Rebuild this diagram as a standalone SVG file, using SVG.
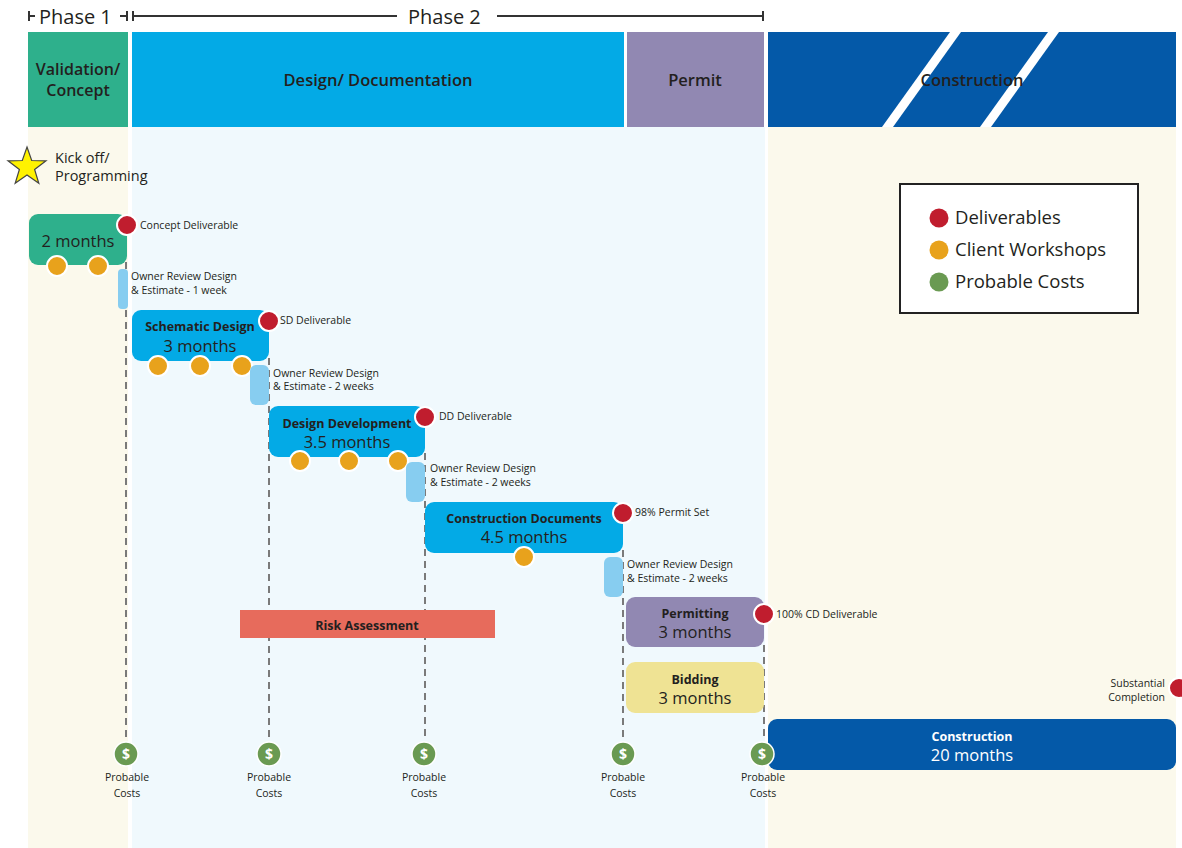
<svg xmlns="http://www.w3.org/2000/svg" width="1182" height="848" viewBox="0 0 1182 848">
<style>
text{font-family:"Open Sans","Noto Sans","Liberation Sans",sans-serif;fill:#231f20}
.hd{font-size:16.5px;font-weight:600;text-anchor:middle}
.hv{font-size:16px;font-weight:600;text-anchor:middle}
.ph{font-size:20px}
.sm{font-size:10.5px}
.mid{text-anchor:middle}
.bt{font-size:12.5px;font-weight:700;text-anchor:middle}
.dur{font-size:16.5px;text-anchor:middle}
.leg{font-size:18.5px}
.dash{stroke:#7a7a7a;stroke-width:2;stroke-dasharray:7 5;fill:none}
.del{fill:#c01d2e;stroke:#fff;stroke-width:2}
.ws{fill:#e8a21c;stroke:#fff;stroke-width:2}
.pc{fill:#6a9a52;stroke:#fff;stroke-width:1.5}
.rev{fill:#87cdf0}
.dol{font-size:14px;font-weight:700;fill:#fff;text-anchor:middle}
</style>
<rect width="1182" height="848" fill="#fff"/>
<g id="background">
<rect x="28" y="127" width="100" height="721" fill="#fbf9ec"/>
<rect x="132" y="127" width="633" height="721" fill="#f0f9fd"/>
<rect x="768" y="127" width="408" height="721" fill="#fbf9ec"/>
</g>
<g id="phases" stroke="#333" stroke-width="2" fill="none">
<line x1="29" y1="11" x2="29" y2="21"/><line x1="29" y1="16" x2="35" y2="16"/>
<line x1="120" y1="16" x2="127" y2="16"/><line x1="127" y1="11" x2="127" y2="21"/>
<line x1="133" y1="11" x2="133" y2="21"/><line x1="133" y1="16" x2="397" y2="16"/>
<line x1="497" y1="16" x2="763" y2="16"/><line x1="763" y1="11" x2="763" y2="21"/>
</g>
<g id="phase-labels">
<text class="ph" x="39" y="24">Phase 1</text>
<text class="ph" x="408" y="24">Phase 2</text>
</g>
<g id="header-validation">
<rect x="28" y="32" width="100" height="95" fill="#2eb08c"/>
<text class="hv" x="78" y="75">Validation/</text>
<text class="hv" x="78" y="96">Concept</text>
</g>
<g id="header-design">
<rect x="132" y="32" width="492" height="95" fill="#03aae6"/>
<text class="hd" x="378" y="86">Design/ Documentation</text>
</g>
<g id="header-permit">
<rect x="627" y="32" width="137" height="95" fill="#9188b2"/>
<text class="hd" x="695" y="86">Permit</text>
</g>
<g id="header-construction">
<rect x="768" y="32" width="408" height="95" fill="#0459a8"/>
<polygon points="950,32 961,32 893,127 882,127" fill="#fff"/>
<polygon points="1048,32 1059,32 991,127 980,127" fill="#fff"/>
<text class="hd" x="972" y="86">Construction</text>
</g>
<g id="connectors">
<line class="dash" x1="126" y1="262" x2="126" y2="740"/>
<line class="dash" x1="269" y1="358" x2="269" y2="740"/>
<line class="dash" x1="425" y1="453" x2="425" y2="740"/>
<line class="dash" x1="623" y1="550" x2="623" y2="740"/>
<line class="dash" x1="764" y1="645" x2="764" y2="740"/>
</g>
<g id="kickoff">
<polygon points="27,147 31.7,160.5 46,160.8 34.6,169.5 38.8,183.2 27,175 15.2,183.2 19.4,169.5 8,160.8 22.3,160.5" fill="#fff200" stroke="#444" stroke-width="1.2"/>
<text x="55" y="163" font-size="14.5">Kick off/</text>
<text x="55" y="181" font-size="14.5">Programming</text>
</g>
<g id="concept">
<rect x="29" y="214" width="98" height="51" rx="9" fill="#2eb08c"/>
<text class="dur" x="78" y="247">2 months</text>
<circle class="ws" cx="57" cy="266" r="10"/>
<circle class="ws" cx="98" cy="266" r="10"/>
<circle class="del" cx="127" cy="225" r="10"/>
<text class="sm" x="140" y="229">Concept Deliverable</text>
</g>
<g id="review1">
<rect class="rev" x="118" y="269" width="10" height="40" rx="4"/>
<text class="sm" x="131" y="280">Owner Review Design</text>
<text class="sm" x="131" y="294">&amp; Estimate - 1 week</text>
</g>
<g id="schematic">
<rect x="132" y="310" width="137" height="51" rx="9" fill="#03aae6"/>
<text class="bt" x="200" y="331">Schematic Design</text>
<text class="dur" x="200" y="352">3 months</text>
<circle class="ws" cx="158" cy="366" r="10"/>
<circle class="ws" cx="200" cy="366" r="10"/>
<circle class="ws" cx="242" cy="366" r="10"/>
<circle class="del" cx="269" cy="321" r="10"/>
<text class="sm" x="280" y="324">SD Deliverable</text>
</g>
<g id="review2">
<rect class="rev" x="250" y="365" width="19" height="40" rx="6"/>
<text class="sm" x="273" y="377">Owner Review Design</text>
<text class="sm" x="273" y="390">&amp; Estimate - 2 weeks</text>
</g>
<g id="design-development">
<rect x="269" y="406" width="156" height="51" rx="9" fill="#03aae6"/>
<text class="bt" x="347" y="428">Design Development</text>
<text class="dur" x="347" y="448">3.5 months</text>
<circle class="ws" cx="300" cy="461" r="10"/>
<circle class="ws" cx="349" cy="461" r="10"/>
<circle class="ws" cx="398" cy="461" r="10"/>
<circle class="del" cx="425" cy="417" r="10"/>
<text class="sm" x="439" y="420">DD Deliverable</text>
</g>
<g id="review3">
<rect class="rev" x="406" y="462" width="19" height="40" rx="6"/>
<text class="sm" x="430" y="472">Owner Review Design</text>
<text class="sm" x="430" y="486">&amp; Estimate - 2 weeks</text>
</g>
<g id="construction-documents">
<rect x="425" y="502" width="198" height="51" rx="9" fill="#03aae6"/>
<text class="bt" x="524" y="523">Construction Documents</text>
<text class="dur" x="524" y="543">4.5 months</text>
<circle class="ws" cx="524" cy="557" r="10"/>
<circle class="del" cx="623" cy="513" r="10"/>
<text class="sm" x="635" y="516">98% Permit Set</text>
</g>
<g id="review4">
<rect class="rev" x="604" y="557" width="19" height="40" rx="6"/>
<text class="sm" x="627" y="568">Owner Review Design</text>
<text class="sm" x="627" y="582">&amp; Estimate - 2 weeks</text>
</g>
<g id="risk">
<rect x="240" y="610" width="255" height="28" fill="#e76b5c"/>
<text x="367" y="630" font-size="12.5" font-weight="700" text-anchor="middle">Risk Assessment</text>
</g>
<g id="permitting">
<rect x="626" y="597" width="138" height="50" rx="9" fill="#9188b2"/>
<text class="bt" x="695" y="618">Permitting</text>
<text class="dur" x="695" y="638">3 months</text>
<circle class="del" cx="764" cy="614" r="10"/>
<text class="sm" x="776" y="618">100% CD Deliverable</text>
</g>
<g id="bidding">
<rect x="626" y="662" width="138" height="51" rx="9" fill="#efe394"/>
<text class="bt" x="695" y="684">Bidding</text>
<text class="dur" x="695" y="704">3 months</text>
</g>
<g id="construction">
<rect x="768" y="719" width="408" height="51" rx="9" fill="#0459a8"/>
<text class="bt" x="972" y="741" style="fill:#fff">Construction</text>
<text class="dur" x="972" y="761" style="fill:#fff">20 months</text>
<circle class="del" cx="1179" cy="688" r="10"/>
<text class="sm" x="1165" y="687" text-anchor="end">Substantial</text>
<text class="sm" x="1165" y="701" text-anchor="end">Completion</text>
</g>
<g id="costs">
<circle class="pc" cx="126" cy="754" r="12"/><text class="dol" x="126" y="759">$</text>
<text class="sm mid" x="127" y="781">Probable</text><text class="sm mid" x="127" y="797">Costs</text>
<circle class="pc" cx="269" cy="754" r="12"/><text class="dol" x="269" y="759">$</text>
<text class="sm mid" x="269" y="781">Probable</text><text class="sm mid" x="269" y="797">Costs</text>
<circle class="pc" cx="424" cy="754" r="12"/><text class="dol" x="424" y="759">$</text>
<text class="sm mid" x="424" y="781">Probable</text><text class="sm mid" x="424" y="797">Costs</text>
<circle class="pc" cx="623" cy="754" r="12"/><text class="dol" x="623" y="759">$</text>
<text class="sm mid" x="623" y="781">Probable</text><text class="sm mid" x="623" y="797">Costs</text>
<circle class="pc" cx="762" cy="754" r="12"/><text class="dol" x="762" y="759">$</text>
<text class="sm mid" x="763" y="781">Probable</text><text class="sm mid" x="763" y="797">Costs</text>
</g>
<g id="legend">
<rect x="900" y="184" width="238" height="129" fill="#fff" stroke="#222" stroke-width="2"/>
<circle cx="939" cy="218" r="9.5" fill="#c01d2e"/>
<text class="leg" x="955" y="224">Deliverables</text>
<circle cx="939" cy="250" r="9.5" fill="#e8a21c"/>
<text class="leg" x="955" y="256">Client Workshops</text>
<circle cx="939" cy="282" r="9.5" fill="#6a9a52"/>
<text class="leg" x="955" y="288">Probable Costs</text>
</g>
</svg>
